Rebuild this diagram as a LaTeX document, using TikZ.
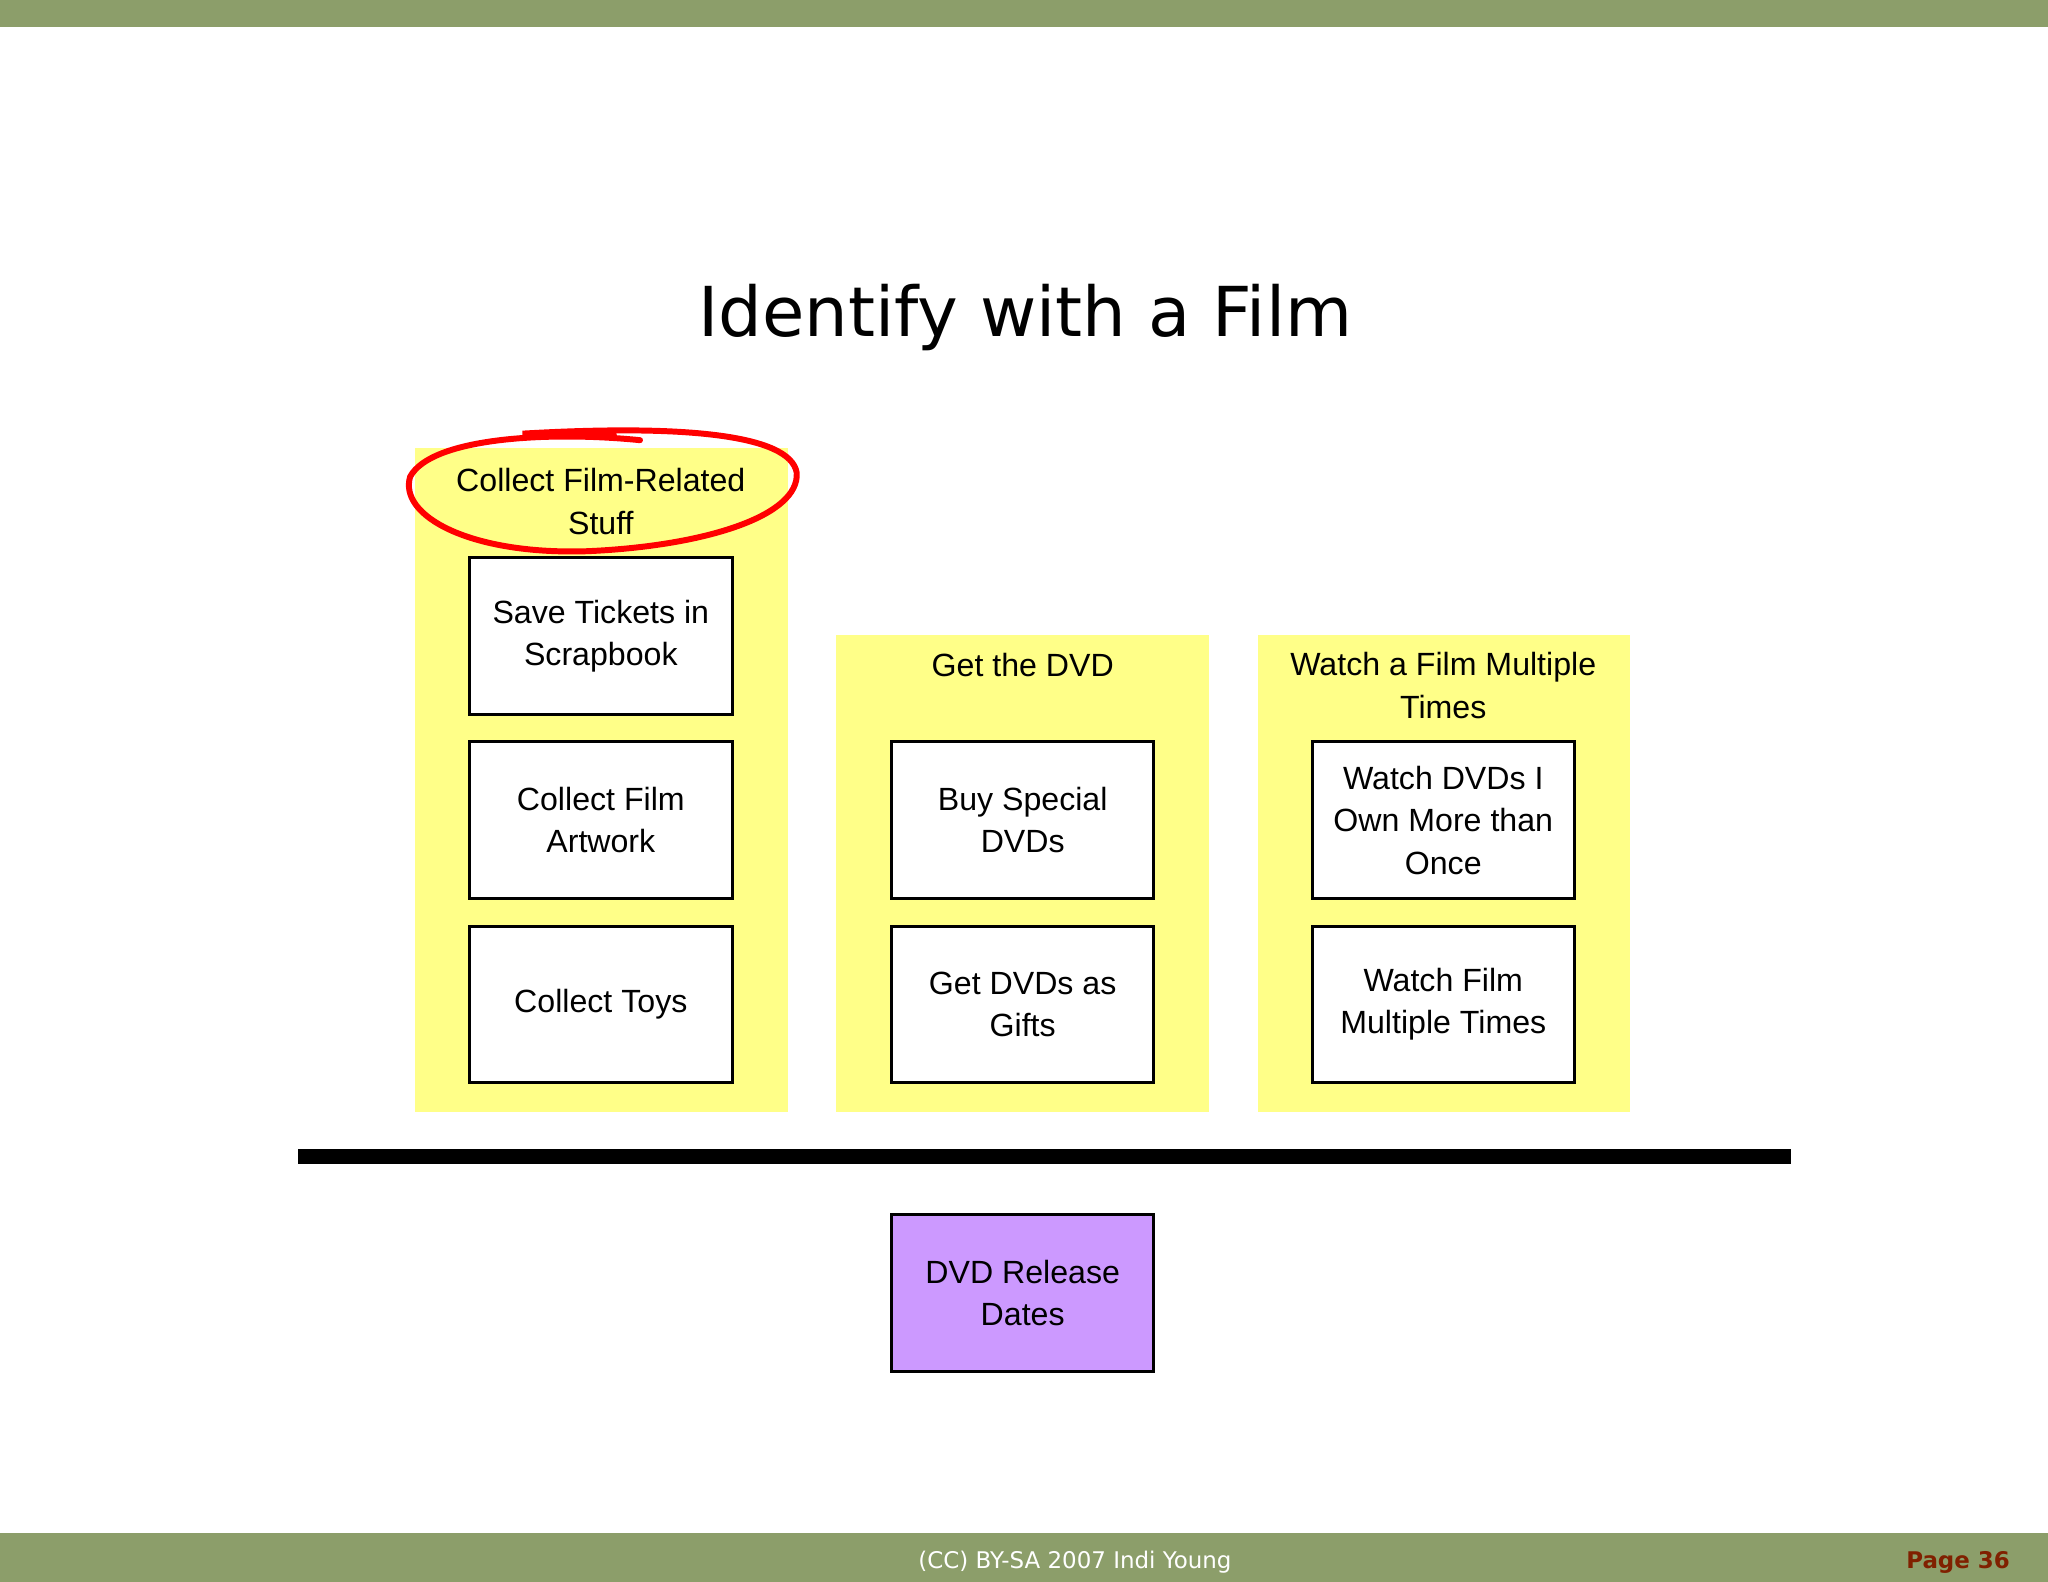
\documentclass[tikz,border=0pt]{standalone}
\usepackage{fontspec}
\setmainfont{Liberation Sans}
\newfontfamily\titlefont{DejaVu Sans}
\begin{document}
\begin{tikzpicture}[x=0.02cm,y=-0.02cm,
  panel/.style={fill=yellow!45!white,draw=none},
  box/.style={draw=black,line width=1.3pt,fill=white,minimum width=4.02cm,minimum height=2.4cm,align=center,font=\fontsize{14}{18.5}\selectfont,inner sep=0pt},
  hdr/.style={align=center,font=\fontsize{14}{18.5}\selectfont}]
\definecolor{bar}{HTML}{8C9E6A}
\definecolor{pan}{HTML}{FFFF88}
\useasboundingbox (0,0) rectangle (1568,1211);
\fill[white] (0,0) rectangle (1568,1211);
\fill[bar] (0,0) rectangle (1568,21);
\fill[bar] (0,1174) rectangle (1568,1211);
\node[font=\titlefont\fontsize{30}{36}\selectfont] (title) at (785,243) {Identify with a Film};
\fill[pan] (318,343) rectangle (603,851);
\fill[pan] (640,486) rectangle (926,851);
\fill[pan] (963,486) rectangle (1248,851);
\node[hdr] (h1) at (460,384) {Collect Film-Related\\Stuff};
\node[hdr] (h2) at (783,509) {Get the DVD};
\node[hdr] (h3) at (1105,525) {Watch a Film Multiple\\Times};
\node[box] (a1) at (460,487) {Save Tickets in\\Scrapbook};
\node[box] (a2) at (460,628) {Collect Film\\Artwork};
\node[box] (a3) at (460,769) {Collect Toys};
\node[box] (b1) at (783,628) {Buy Special\\DVDs};
\node[box] (b2) at (783,769) {Get DVDs as\\Gifts};
\node[box] (c1) at (1105,628) {Watch DVDs I\\Own More than\\Once};
\node[box] (c2) at (1105,769) {Watch Film\\Multiple Times};
\fill[black] (228,880) rectangle (1371,891);
\node[box,fill={rgb,255:red,204;green,153;blue,255}] (d) at (783,990) {DVD Release\\Dates};
\draw[red,line width=2.6pt,line cap=round] (490,337) .. controls (420,330) and (330,335) .. (314,365)
  .. controls (305,395) and (360,425) .. (450,422) .. controls (540,418) and (612,395) .. (610,362)
  .. controls (605,332) and (520,325) .. (400,332) .. controls (430,331) .. (470,333);
\node[white,font=\titlefont\fontsize{10}{12}\selectfont] (f) at (823,1196) {(CC) BY-SA 2007 Indi Young};
\node[anchor=east,text={rgb,255:red,128;green,32;blue,0},font=\titlefont\bfseries\fontsize{10}{12}\selectfont] (p) at (1545,1196) {Page 36};
\end{tikzpicture}
\end{document}
